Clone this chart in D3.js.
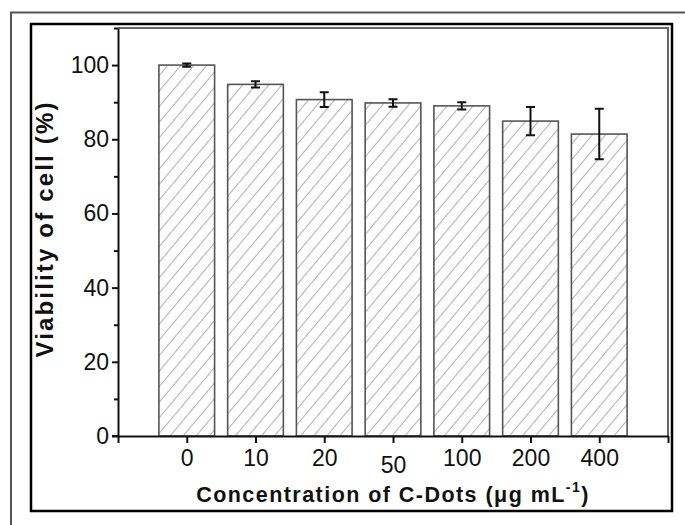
<!DOCTYPE html>
<html>
<head>
<meta charset="utf-8">
<script src="https://cdn.jsdelivr.net/npm/d3@7"></script>
<style>
  html, body { margin: 0; padding: 0; background: #fff; }
  svg { display: block; }
  text { font-family: "Liberation Sans", Arial, Helvetica, sans-serif; }
</style>
</head>
<body>
<svg id="chart" width="685" height="525"></svg>
<script>
// Cell viability after exposure to C-Dots
const concentrations = ["0", "10", "20", "50", "100", "200", "400"];
const viability = [100, 94.8, 90.7, 89.8, 89.0, 84.9, 81.4];
const viabilityErr = [0.45, 0.85, 2.0, 1.0, 1.0, 3.8, 6.8];
const yMajorTicks = [0, 20, 40, 60, 80, 100];
const yMinorTicks = [10, 30, 50, 70, 90, 110];

const svg = d3.select("#chart");

const plot = { left: 118, right: 668, top: 28, bottom: 436 };

// One empty slot on either side of the seven bars
const x = d3.scaleLinear()
  .domain([0, concentrations.length + 1])
  .range([plot.left, plot.right]);
const y = d3.scaleLinear()
  .domain([0, 110])
  .range([plot.bottom, plot.top]);

const slot = x(1) - x(0);
const barWidth = slot * 0.81;

// Diagonal hatching
const defs = svg.append("defs");
const hatch = defs.append("pattern")
  .attr("id", "hatch")
  .attr("patternUnits", "userSpaceOnUse")
  .attr("width", 10)
  .attr("height", 10)
  .attr("patternTransform", "rotate(40)");
hatch.append("rect").attr("width", 10).attr("height", 10).attr("fill", "#fff");
hatch.append("line")
  .attr("x1", 0).attr("y1", 0).attr("x2", 0).attr("y2", 10)
  .attr("stroke", "#7a7a7a").attr("stroke-width", 1.2);

// Frames
svg.append("rect")
  .attr("x", 11).attr("y", 12.5).attr("width", 720).attr("height", 600)
  .attr("fill", "none").attr("stroke", "#555").attr("stroke-width", 2);
svg.append("rect")
  .attr("x", 31).attr("y", 24).attr("width", 641).attr("height", 487)
  .attr("fill", "none").attr("stroke", "#000").attr("stroke-width", 2.5);

// Plot box top and right edges
svg.append("path")
  .attr("d", `M${plot.left},${plot.top}H${plot.right}V${plot.bottom}`)
  .attr("fill", "none").attr("stroke", "#666").attr("stroke-width", 2);

// Bars
const idx = d3.range(concentrations.length);
svg.append("g").selectAll("rect")
  .data(idx)
  .join("rect")
  .attr("x", i => x(i + 1) - barWidth / 2)
  .attr("y", i => y(viability[i]))
  .attr("width", barWidth)
  .attr("height", i => y(0) - y(viability[i]))
  .attr("fill", "url(#hatch)")
  .attr("stroke", "#555")
  .attr("stroke-width", 1.6);

// Error bars
const capW = 9;
const eb = svg.append("g").attr("stroke", "#111").attr("stroke-width", 2).attr("fill", "none");
eb.selectAll("path")
  .data(idx)
  .join("path")
  .attr("d", i => {
    const cx = x(i + 1);
    const hi = y(viability[i] + viabilityErr[i]);
    const lo = y(viability[i] - viabilityErr[i]);
    return `M${cx - capW / 2},${hi}H${cx + capW / 2}M${cx},${hi}V${lo}M${cx - capW / 2},${lo}H${cx + capW / 2}`;
  });

// Y axis
svg.append("g")
  .attr("transform", `translate(${plot.left},0)`)
  .call(d3.axisLeft(y).tickValues(yMajorTicks).tickSize(6).tickPadding(3).tickSizeOuter(0));
svg.append("g")
  .attr("transform", `translate(${plot.left},0)`)
  .call(d3.axisLeft(y).tickValues(yMinorTicks).tickSize(4).tickFormat("").tickSizeOuter(0))
  .call(g => g.select(".domain").remove());

// X axis
const xAxis = svg.append("g")
  .attr("transform", `translate(0,${plot.bottom})`)
  .call(d3.axisBottom(x)
    .tickValues(d3.range(0, concentrations.length + 2))
    .tickFormat(v => (v >= 1 && v <= concentrations.length) ? concentrations[v - 1] : "")
    .tickSize(7).tickPadding(7).tickSizeOuter(0));

// Axis styling
svg.selectAll(".domain, .tick line").attr("stroke", "#111").attr("stroke-width", 2);
svg.selectAll(".tick text")
  .attr("fill", "#111")
  .attr("font-size", null)
  .style("font-size", "23px")
  .style("font-family", "'Liberation Sans', Arial, sans-serif");
// the "50" label sits a little lower
xAxis.selectAll(".tick text").filter(function () { return this.textContent === "50"; })
  .attr("dy", "0.98em");

// Extend the x axis line left to meet the y "0" tick
svg.append("line")
  .attr("x1", plot.left - 6).attr("x2", plot.left)
  .attr("y1", plot.bottom).attr("y2", plot.bottom)
  .attr("stroke", "#111").attr("stroke-width", 2);

// Axis titles
function fitWidth(sel, target) {
  const w = sel.node().getComputedTextLength();
  const n = sel.text().length - 1;
  if (n > 0) sel.attr("letter-spacing", ((target - w) / n).toFixed(2));
}

const xTitle = svg.append("text")
  .attr("x", 393).attr("y", 502)
  .attr("text-anchor", "middle")
  .attr("fill", "#111")
  .style("font-size", "21.5px").style("font-weight", "bold");
xTitle.append("tspan").text("Concentration of C-Dots (\u03bcg mL");
xTitle.append("tspan").attr("dy", -10).style("font-size", "14px").text("-1");
xTitle.append("tspan").attr("dy", 10).text(")");
fitWidth(xTitle, 392);

const yTitle = svg.append("text")
  .attr("transform", "translate(53,229) rotate(-90)")
  .attr("text-anchor", "middle")
  .attr("fill", "#111")
  .style("font-size", "24px").style("font-weight", "bold")
  .text("Viability of cell (%)");
fitWidth(yTitle, 255);
</script>
</body>
</html>
